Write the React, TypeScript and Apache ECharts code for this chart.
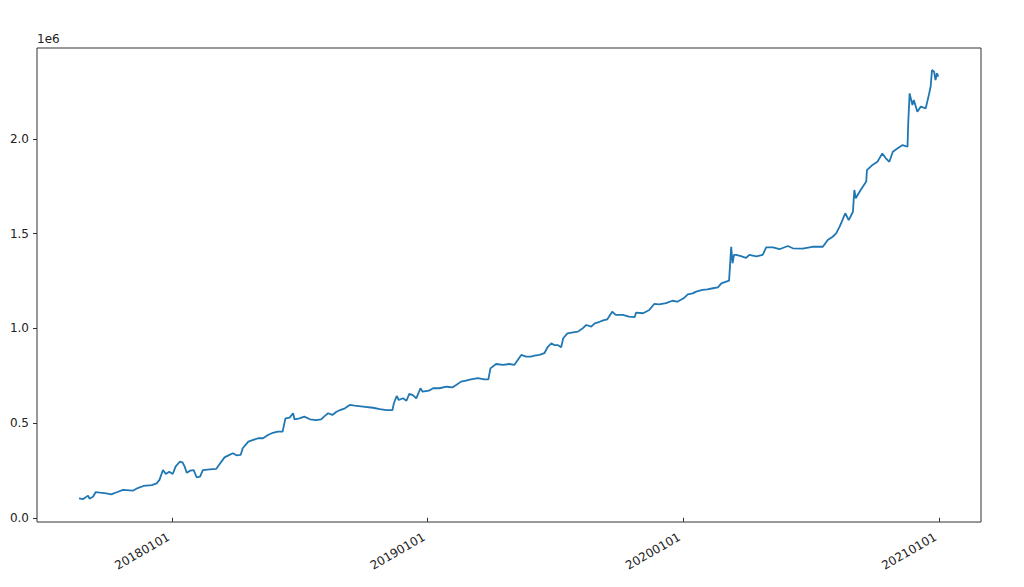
import React, { useEffect, useRef } from "react";
import * as echarts from "echarts";

// Trading dates of the equity curve
const dates: string[] = [
  // 2017
  "2017-08-21", "2017-08-27", "2017-09-03", "2017-09-05", "2017-09-10", "2017-09-14", "2017-09-20", "2017-09-29",
  "2017-10-06", "2017-10-14", "2017-10-23", "2017-11-06", "2017-11-13", "2017-11-21", "2017-12-03", "2017-12-10",
  "2017-12-14", "2017-12-19", "2017-12-23", "2017-12-28",
  // 2018
  "2018-01-02", "2018-01-06", "2018-01-12", "2018-01-16", "2018-01-19", "2018-01-22", "2018-01-27",
  "2018-02-01", "2018-02-05", "2018-02-10", "2018-02-14", "2018-02-24",
  "2018-03-05", "2018-03-09", "2018-03-17", "2018-03-24", "2018-03-29",
  "2018-04-03", "2018-04-09", "2018-04-12", "2018-04-20", "2018-04-27",
  "2018-05-04", "2018-05-11", "2018-05-18", "2018-05-25",
  "2018-06-01", "2018-06-08", "2018-06-12", "2018-06-18", "2018-06-23", "2018-06-25",
  "2018-07-02", "2018-07-09", "2018-07-17", "2018-07-26",
  "2018-08-02", "2018-08-07", "2018-08-12", "2018-08-18", "2018-08-24", "2018-08-29",
  "2018-09-05", "2018-09-12", "2018-09-19",
  "2018-10-01", "2018-10-15", "2018-10-25",
  "2018-11-03", "2018-11-12", "2018-11-14", "2018-11-18", "2018-11-21", "2018-11-27",
  "2018-12-02", "2018-12-06", "2018-12-11", "2018-12-16", "2018-12-22", "2018-12-25",
  // 2019
  "2019-01-03", "2019-01-09", "2019-01-18", "2019-01-28",
  "2019-02-06", "2019-02-11", "2019-02-18", "2019-02-25",
  "2019-03-04", "2019-03-14", "2019-03-23", "2019-03-29",
  "2019-04-01", "2019-04-09", "2019-04-19", "2019-04-28",
  "2019-05-05", "2019-05-10", "2019-05-15", "2019-05-22", "2019-05-29",
  "2019-06-03", "2019-06-10", "2019-06-17", "2019-06-22", "2019-06-27",
  "2019-07-01", "2019-07-06", "2019-07-11", "2019-07-14", "2019-07-20", "2019-07-28",
  "2019-08-04", "2019-08-11", "2019-08-16", "2019-08-23", "2019-08-28",
  "2019-09-04", "2019-09-09", "2019-09-15", "2019-09-22", "2019-09-27",
  "2019-10-07", "2019-10-16", "2019-10-24", "2019-10-26",
  "2019-11-05", "2019-11-14", "2019-11-21", "2019-11-28",
  "2019-12-08", "2019-12-17", "2019-12-24",
  // 2020
  "2020-01-02", "2020-01-08", "2020-01-15", "2020-01-20", "2020-01-29",
  "2020-02-05", "2020-02-13", "2020-02-20", "2020-02-25",
  "2020-03-03", "2020-03-07", "2020-03-10", "2020-03-12", "2020-03-14", "2020-03-17", "2020-03-24", "2020-03-31",
  "2020-04-05", "2020-04-15", "2020-04-24", "2020-04-29",
  "2020-05-09", "2020-05-18", "2020-05-30",
  "2020-06-06", "2020-06-20",
  "2020-07-04", "2020-07-19", "2020-07-26",
  "2020-08-02", "2020-08-07", "2020-08-12", "2020-08-16", "2020-08-20", "2020-08-25", "2020-08-31",
  "2020-09-02", "2020-09-04", "2020-09-11", "2020-09-19", "2020-09-20", "2020-09-28",
  "2020-10-05", "2020-10-12", "2020-10-17", "2020-10-22", "2020-10-27",
  "2020-11-03", "2020-11-10", "2020-11-17", "2020-11-18", "2020-11-20", "2020-11-24", "2020-11-26",
  "2020-12-01", "2020-12-06", "2020-12-13", "2020-12-18", "2020-12-20", "2020-12-22", "2020-12-25",
  "2020-12-27", "2020-12-29", "2020-12-31",
];

// Equity values (same order as dates)
const equity: number[] = [
  // 2017
  103000, 99000, 117000, 101000, 111000, 136000, 133000, 129000,
  124000, 135000, 147000, 143000, 157000, 168000, 173000, 182000,
  200000, 252000, 231000, 243000,
  // 2018
  231000, 270000, 296000, 293000, 270000, 238000, 249000,
  252000, 214000, 217000, 252000, 256000,
  258000, 279000, 319000, 332000, 341000,
  330000, 332000, 367000, 402000, 411000,
  420000, 420000, 437000, 449000,
  455000, 455000, 525000, 529000, 552000, 520000,
  525000, 534000, 520000, 516000,
  520000, 537000, 552000, 543000, 560000, 569000,
  578000, 596000, 592000,
  587000, 581000, 574000,
  569000, 569000, 605000, 643000, 622000, 631000,
  618000, 654000, 648000, 631000, 684000, 666000,
  // 2019
  671000, 684000, 684000, 692000,
  689000, 701000, 719000, 724000,
  731000, 737000, 731000, 731000,
  789000, 812000, 807000, 812000,
  807000, 833000, 860000, 851000, 851000,
  856000, 860000, 869000, 903000, 921000,
  912000, 912000, 900000, 948000, 974000, 979000,
  983000, 1001000, 1018000, 1009000, 1027000,
  1035000, 1042000, 1048000, 1088000, 1071000,
  1071000, 1062000, 1059000, 1083000,
  1080000, 1097000, 1129000, 1127000,
  1133000, 1146000, 1141000,
  // 2020
  1159000, 1180000, 1185000, 1194000, 1203000,
  1206000, 1212000, 1217000, 1238000,
  1247000, 1252000, 1431000, 1344000, 1388000, 1388000, 1382000, 1372000,
  1388000, 1380000, 1388000, 1428000,
  1428000, 1418000, 1435000,
  1423000, 1421000,
  1431000, 1431000, 1467000,
  1484000, 1502000, 1537000, 1572000, 1608000, 1572000, 1616000,
  1731000, 1687000, 1731000, 1775000, 1836000, 1863000,
  1880000, 1924000, 1898000, 1880000, 1933000,
  1951000, 1968000, 1959000, 2083000, 2241000, 2179000, 2206000,
  2144000, 2171000, 2162000, 2241000, 2276000, 2364000, 2355000,
  2311000, 2347000, 2329000,
];

const xTickDates: string[] = ["2018-01-01", "2019-01-01", "2020-01-01", "2021-01-01"];
const yTickValues: number[] = [0, 500000, 1000000, 1500000, 2000000];
const xAxisMin = "2017-06-22";
const xAxisMax = "2021-03-02";
const yAxisMin = -22200;
const yAxisMax = 2480500;

const ts = (s: string) => new Date(s + "T00:00:00Z").getTime();
const pad2 = (n: number) => (n < 10 ? "0" + n : "" + n);
const fmtDate = (v: number) => {
  const d = new Date(v);
  return `${d.getUTCFullYear()}${pad2(d.getUTCMonth() + 1)}${pad2(d.getUTCDate())}`;
};

export default function App() {
  const ref = useRef<HTMLDivElement>(null);
  useEffect(() => {
    document.body.style.margin = "0";
    const chart = echarts.init(ref.current!, null, { renderer: "svg" });
    const font = "DejaVu Sans";
    const textColor = "#222";
    const spine = "#333";
    chart.setOption({
      animation: false,
      backgroundColor: "#fff",
      grid: {
        left: 37,
        top: 48,
        right: 43,
        bottom: 65,
        show: true,
        borderColor: spine,
        borderWidth: 1,
        backgroundColor: "transparent",
      },
      xAxis: {
        type: "value",
        min: ts(xAxisMin),
        max: ts(xAxisMax),
        axisLine: { show: false },
        splitLine: { show: false },
        axisTick: {
          show: true,
          length: 4,
          lineStyle: { color: spine, width: 1 },
          customValues: xTickDates.map(ts),
        },
        axisLabel: {
          customValues: xTickDates.map(ts),
          formatter: (v: number) => fmtDate(v),
          rotate: 30,
          margin: 12,
          padding: [0, 4, 0, 0],
          fontFamily: font,
          fontSize: 12,
          color: textColor,
        },
      },
      yAxis: {
        type: "value",
        min: yAxisMin,
        max: yAxisMax,
        name: "1e6",
        nameLocation: "end",
        nameGap: 3,
        nameTextStyle: {
          align: "left",
          verticalAlign: "bottom",
          fontFamily: font,
          fontSize: 12,
          color: textColor,
        },
        axisLine: { show: false },
        splitLine: { show: false },
        axisTick: {
          show: true,
          length: 4,
          lineStyle: { color: spine, width: 1 },
          customValues: yTickValues,
        },
        axisLabel: {
          customValues: yTickValues,
          formatter: (v: number) => (v / 1e6).toFixed(1),
          margin: 8,
          fontFamily: font,
          fontSize: 12,
          color: textColor,
        },
      },
      series: [
        {
          type: "line",
          data: dates.map((d, i) => [ts(d), equity[i]]),
          showSymbol: false,
          symbol: "none",
          lineStyle: { color: "#1f77b4", width: 1.8 },
          itemStyle: { color: "#1f77b4" },
        },
      ],
    });
    return () => chart.dispose();
  }, []);
  return <div ref={ref} style={{ width: 1024, height: 587 }} />;
}
